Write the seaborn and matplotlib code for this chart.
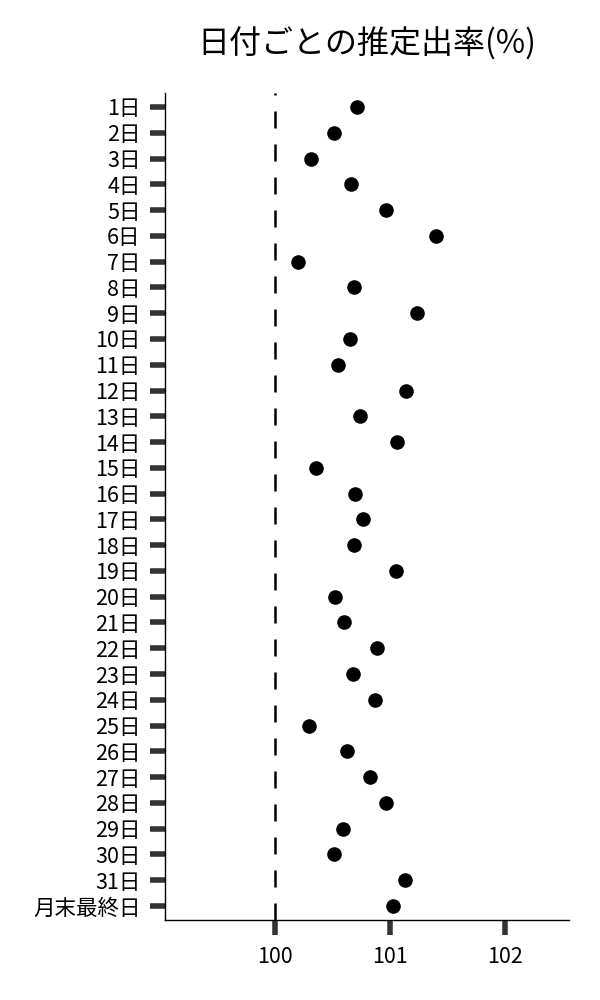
import pandas as pd
import matplotlib
matplotlib.use("Agg")
import matplotlib.pyplot as plt
import seaborn as sns

# Labels (day of month) and estimated rates
days = [f"{i}日" for i in range(1, 32)] + ["月末最終日"]
rates = [
    100.71, 100.51, 100.31, 100.66, 100.97, 101.40, 100.20, 100.69,
    101.24, 100.65, 100.55, 101.14, 100.74, 101.06, 100.36, 100.70,
    100.77, 100.69, 101.05, 100.52, 100.60, 100.89, 100.68, 100.87,
    100.30, 100.63, 100.83, 100.97, 100.59, 100.51, 101.13, 101.03,
]
baseline = 100
x_ticks = [100, 101, 102]

df = pd.DataFrame({"day": days, "rate": rates})

sns.set_style("white")
plt.rcParams["font.family"] = ["Noto Sans CJK JP", "DejaVu Sans"]
plt.rcParams["text.color"] = "black"
plt.rcParams["xtick.color"] = "#333333"
plt.rcParams["ytick.color"] = "#333333"
plt.rcParams["xtick.labelcolor"] = "black"
plt.rcParams["ytick.labelcolor"] = "black"

fig = plt.figure(figsize=(6, 10), dpi=100)
ax = fig.add_axes([0.275, 0.08, 0.673, 0.827])

sns.stripplot(data=df, x="rate", y="day", order=days, jitter=False,
              color="black", size=10.5, ax=ax, zorder=3)
# reference line at 100%
ax.axvline(baseline, color="black", lw=1.8, dashes=(6.8, 6.4), zorder=2)

ax.set_xlim(99.043, 102.557)
ax.set_ylim(len(days) - 0.457, -0.543)
ax.set_xticks(x_ticks)
ax.set_xlabel("")
ax.set_ylabel("")
ax.set_title("日付ごとの推定出率(%)", fontsize=23, pad=28, color="black")

ax.tick_params(axis="both", length=10.5, width=4, labelsize=15.5, pad=7,
               bottom=True, left=True)
ax.tick_params(axis="x", pad=8)
sns.despine(ax=ax)
for s in ["left", "bottom"]:
    ax.spines[s].set_color("black")
    ax.spines[s].set_linewidth(1)

fig.savefig("out.png", dpi=100)
